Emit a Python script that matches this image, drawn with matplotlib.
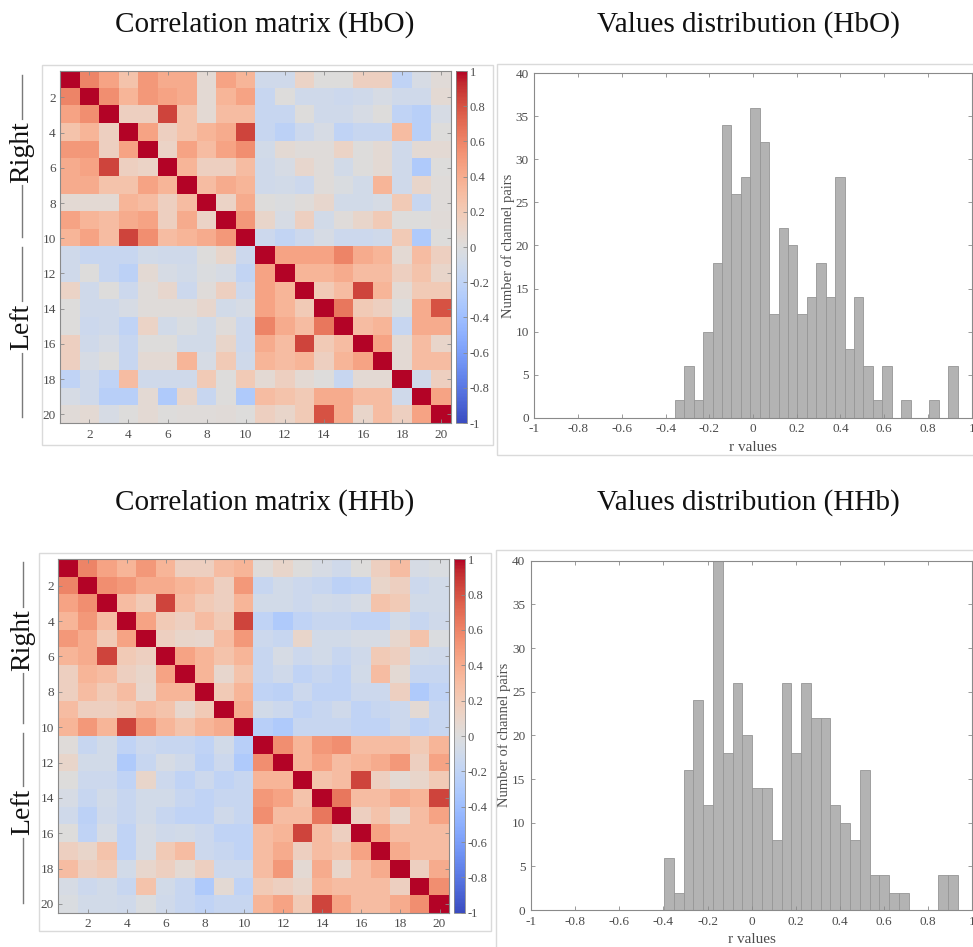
import numpy as np
import matplotlib
matplotlib.use("Agg")
import matplotlib.pyplot as plt
from matplotlib.patches import Rectangle
from matplotlib.lines import Line2D

# ---------------- data ----------------
channels = list(range(1, 21))
channel_ticks = [2, 4, 6, 8, 10, 12, 14, 16, 18, 20]

# upper-triangle rows (columns i+1..20) of the HbO correlation matrix
hbo_upper = [
    [0.60, 0.45, 0.25, 0.50, 0.40, 0.40, 0.05, 0.45, 0.35, -0.10, -0.10, 0.12, 0.00, 0.00, 0.15, 0.15, -0.20, -0.05, 0.03],
    [0.55, 0.35, 0.50, 0.45, 0.40, 0.05, 0.35, 0.45, -0.15, 0.00, -0.10, -0.10, -0.12, -0.10, -0.05, -0.10, -0.10, 0.05],
    [0.15, 0.15, 0.85, 0.25, 0.05, 0.30, 0.30, -0.15, -0.15, 0.00, -0.10, -0.10, -0.05, 0.00, -0.20, -0.25, -0.05],
    [0.45, 0.15, 0.25, 0.35, 0.40, 0.85, -0.15, -0.22, -0.12, -0.05, -0.20, -0.15, -0.15, 0.30, -0.25, 0.00],
    [0.12, 0.45, 0.30, 0.45, 0.55, -0.08, 0.05, 0.02, 0.02, 0.12, 0.00, 0.05, -0.10, 0.05, 0.05],
    [0.35, 0.15, 0.15, 0.30, -0.10, -0.05, 0.08, 0.02, -0.08, 0.00, 0.05, -0.10, -0.30, 0.00],
    [0.30, 0.40, 0.35, -0.10, -0.08, -0.12, 0.02, -0.03, -0.08, 0.35, -0.10, 0.10, 0.02],
    [0.12, 0.40, 0.00, -0.02, 0.02, 0.08, -0.08, -0.08, -0.05, 0.20, -0.15, 0.02],
    [0.50, 0.10, -0.05, 0.15, -0.08, 0.02, 0.10, 0.20, 0.00, 0.00, 0.03],
    [-0.12, -0.18, -0.12, -0.05, -0.12, -0.12, -0.10, 0.20, -0.30, 0.00],
    [0.45, 0.45, 0.45, 0.60, 0.40, 0.35, 0.05, 0.30, 0.15],
    [0.35, 0.35, 0.40, 0.30, 0.30, 0.15, 0.25, 0.10],
    [0.20, 0.30, 0.85, 0.35, 0.05, 0.20, 0.20],
    [0.65, 0.20, 0.15, 0.00, 0.40, 0.80],
    [0.30, 0.35, -0.15, 0.40, 0.40],
    [0.45, 0.05, 0.30, 0.10],
    [0.05, 0.30, 0.30],
    [-0.10, 0.15],
    [0.45],
]

# upper-triangle rows of the HHb correlation matrix
hhb_upper = [
    [0.60, 0.45, 0.35, 0.50, 0.35, 0.15, 0.15, 0.30, 0.35, 0.02, 0.10, 0.00, -0.05, -0.10, 0.00, 0.15, 0.30, -0.05, -0.03],
    [0.55, 0.50, 0.40, 0.40, 0.35, 0.30, 0.15, 0.50, -0.15, -0.08, -0.12, -0.15, -0.22, -0.20, 0.10, 0.15, -0.12, -0.08],
    [0.30, 0.20, 0.85, 0.30, 0.20, 0.15, 0.35, -0.08, -0.08, -0.12, -0.08, -0.10, -0.05, 0.25, 0.20, -0.08, -0.08],
    [0.45, 0.20, 0.15, 0.30, 0.20, 0.85, -0.20, -0.30, -0.20, -0.15, -0.15, -0.20, -0.20, -0.08, -0.15, -0.10],
    [0.15, 0.10, 0.08, 0.30, 0.50, -0.12, -0.15, 0.10, -0.08, -0.08, -0.05, -0.05, 0.08, 0.25, -0.02],
    [0.45, 0.35, 0.25, 0.35, -0.15, -0.05, -0.12, -0.08, -0.15, -0.10, 0.20, 0.15, -0.08, -0.10],
    [0.35, 0.08, 0.25, -0.15, -0.10, -0.20, -0.15, -0.20, -0.08, 0.30, 0.05, -0.15, -0.15],
    [0.20, 0.35, -0.20, -0.22, -0.12, -0.20, -0.20, -0.12, -0.12, 0.15, -0.30, -0.20],
    [0.40, -0.08, -0.12, -0.20, -0.15, -0.10, -0.20, -0.15, -0.12, 0.05, -0.15],
    [-0.25, -0.30, -0.15, -0.15, -0.15, -0.20, -0.20, -0.12, -0.20, -0.15],
    [0.55, 0.35, 0.50, 0.55, 0.30, 0.30, 0.30, 0.20, 0.35],
    [0.35, 0.45, 0.30, 0.35, 0.40, 0.50, 0.15, 0.45],
    [0.25, 0.30, 0.85, 0.15, 0.05, 0.10, 0.20],
    [0.65, 0.30, 0.30, 0.40, 0.35, 0.85],
    [0.15, 0.25, 0.10, 0.30, 0.45],
    [0.45, 0.30, 0.30, 0.30],
    [0.40, 0.30, 0.30],
    [0.15, 0.40],
    [0.55],
]

# histogram counts (30 bins between min and max r value)
hbo_counts = [2, 6, 2, 10, 18, 34, 26, 28, 36, 32, 12, 22, 20, 12, 14,
              18, 14, 28, 8, 14, 6, 2, 6, 0, 2, 0, 0, 2, 0, 6]
hbo_range = (-0.357, 0.936)
hhb_counts = [6, 2, 16, 24, 12, 40, 18, 26, 20, 14, 14, 8, 26, 18, 26,
              22, 22, 12, 10, 8, 16, 4, 4, 2, 2, 0, 0, 0, 4, 4]
hhb_range = (-0.397, 0.934)

hist_xticks = [-1, -0.8, -0.6, -0.4, -0.2, 0, 0.2, 0.4, 0.6, 0.8, 1]
hist_yticks = [0, 5, 10, 15, 20, 25, 30, 35, 40]
cbar_ticks = [-1, -0.8, -0.6, -0.4, -0.2, 0, 0.2, 0.4, 0.6, 0.8, 1]

titles_left = ["Correlation matrix (HbO)", "Correlation matrix (HHb)"]
titles_right = ["Values distribution (HbO)", "Values distribution (HHb)"]


def full_matrix(upper):
    n = len(upper) + 1
    m = np.eye(n)
    for i, row in enumerate(upper):
        for k, v in enumerate(row):
            j = i + 1 + k
            m[i, j] = v
            m[j, i] = v
    return m


def fmt(v):
    return f"{v:g}"


# ---------------- figure ----------------
W, H = 973, 947
fig = plt.figure(figsize=(W / 100, H / 100), dpi=100)
SERIF = "Liberation Serif"
TICK_C = "#4d4d4d"
SPINE_C = "#8a8a8a"


def fx(x):
    return x / W


def fy(y):
    return 1 - y / H


def ax_px(x0, y0, x1, y1):
    return fig.add_axes([fx(x0), fy(y1), (x1 - x0) / W, (y1 - y0) / H])


def panel_box(x0, y0, x1, y1):
    fig.add_artist(Rectangle((fx(x0), fy(y1)), (x1 - x0) / W, (y1 - y0) / H,
                             transform=fig.transFigure, fill=False,
                             edgecolor="#dadada", linewidth=1.0))


def style_ax(ax):
    for s in ax.spines.values():
        s.set_color(SPINE_C)
        s.set_linewidth(0.8)
    ax.tick_params(direction="in", top=True, right=True, color=SPINE_C,
                   labelcolor=TICK_C, length=3, width=0.6,
                   labelsize=9.5)
    for lab in ax.get_xticklabels() + ax.get_yticklabels():
        lab.set_fontfamily(SERIF)


def side_label(text, x, y0, y1, yc):
    fig.add_artist(Line2D([fx(x), fx(x)], [fy(y0), fy(y1)],
                          transform=fig.transFigure, color="#7a7a7a", lw=1.0))
    fig.text(fx(x), fy(yc), text, rotation=90, ha="center", va="center",
             fontsize=20, family=SERIF, color="#111111",
             bbox=dict(facecolor="white", edgecolor="white", pad=1.0, lw=0.6))


def draw_matrix(upper, mat_box, cb_box, panel, title_x, title_y, title, brackets):
    panel_box(*panel)
    m = full_matrix(upper)
    ax = ax_px(*mat_box)
    im = ax.imshow(m, cmap="coolwarm", vmin=-1, vmax=1, aspect="auto",
                   interpolation="nearest",
                   extent=(0.5, len(channels) + 0.5, len(channels) + 0.5, 0.5))
    ax.set_xticks(channel_ticks)
    ax.set_yticks(channel_ticks)
    ax.set_xticklabels([str(t) for t in channel_ticks])
    ax.set_yticklabels([str(t) for t in channel_ticks])
    style_ax(ax)
    ax.tick_params(axis="x", pad=4)
    ax.tick_params(axis="y", pad=3)
    cax = ax_px(*cb_box)
    cb = fig.colorbar(im, cax=cax, ticks=cbar_ticks)
    cb.ax.set_yticklabels([fmt(t) for t in cbar_ticks])
    cb.outline.set_edgecolor(SPINE_C)
    cb.outline.set_linewidth(0.6)
    cb.ax.tick_params(direction="in", color=SPINE_C, labelcolor=TICK_C,
                      length=3, width=0.6, labelsize=9, pad=2)
    for lab in cb.ax.get_yticklabels():
        lab.set_fontfamily(SERIF)
    fig.text(fx(title_x), fy(title_y), title, ha="center", va="center",
             fontsize=21, family=SERIF, color="#111111")
    for b in brackets:
        side_label(*b)


def draw_hist(counts, rng, ax_box, panel, title_x, title_y, title, ylab_x, xlab_pad):
    panel_box(*panel)
    ax = ax_px(*ax_box)
    edges = np.linspace(rng[0], rng[1], len(counts) + 1)
    ax.bar(edges[:-1], counts, width=np.diff(edges), align="edge",
           color="#b3b3b3", edgecolor="#969696", linewidth=0.6)
    ax.set_xlim(-1, 1)
    ax.set_ylim(0, 40)
    ax.set_xticks(hist_xticks)
    ax.set_xticklabels([fmt(t) for t in hist_xticks])
    ax.set_yticks(hist_yticks)
    style_ax(ax)
    ax.tick_params(axis="both", labelsize=9.5, pad=4)
    ax.set_xlabel("r values", family=SERIF, fontsize=11, color=TICK_C,
                  labelpad=xlab_pad)
    ax.set_ylabel("Number of channel pairs", family=SERIF, fontsize=10.5,
                  color=TICK_C)
    w = ax_box[2] - ax_box[0]
    ax.yaxis.set_label_coords((ylab_x - ax_box[0]) / w, 0.5)
    fig.text(fx(title_x), fy(title_y), title, ha="center", va="center",
             fontsize=21, family=SERIF, color="#111111")


# top row (HbO)
draw_matrix(hbo_upper, (60, 71, 451, 423), (455.7, 71, 466.7, 423),
            (42, 65, 493, 445), 265, 25, titles_left[0],
            [("Right", 22, 75, 237, 152), ("Left", 22, 247, 417, 327)])
draw_hist(hbo_counts, hbo_range, (534.3, 73.3, 971.7, 417.7),
          (497, 64, 985, 455), 748, 25, titles_right[0], 515, 4)

# bottom row (HHb)
draw_matrix(hhb_upper, (58.3, 559.3, 449.3, 912.7), (454.3, 559.3, 465, 912.7),
            (39, 553, 491, 931), 265, 503, titles_left[1],
            [("Right", 23, 562, 723, 640), ("Left", 23, 733, 903, 812)])
draw_hist(hhb_counts, hhb_range, (531, 560.7, 972.3, 910),
          (496, 550, 985, 960), 748, 503, titles_right[1], 511, 4)

fig.savefig("out.png", dpi=100)
